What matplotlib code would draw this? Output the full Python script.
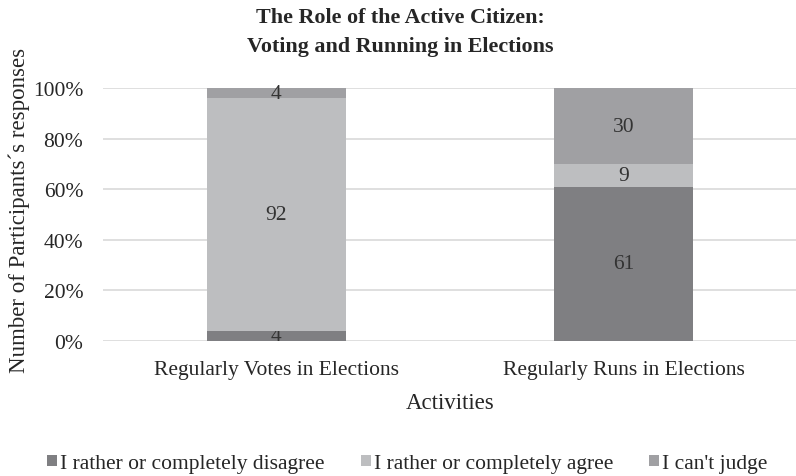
import numpy as np
import matplotlib.pyplot as plt
from matplotlib.ticker import PercentFormatter

# datas
categories = ['Regularly Votes in Elections', 'Regularly Runs in Elections']
disagree = [4, 61]
agree = [92, 9]
cant_judge = [4, 30]
series_names = ['I rather or completely disagree', 'I rather or completely agree', "I can't judge"]
colors = ['#7f7f82', '#bdbec0', '#a0a0a3']

plt.rcParams['font.family'] = ['Liberation Serif', 'DejaVu Serif']

fig = plt.figure(figsize=(7.96, 4.77), dpi=100)
ax = fig.add_axes([0.129, 0.283, 0.873, 0.53])

x = np.arange(len(categories))
bottom = np.zeros(len(categories))
for vals, name, c in zip([disagree, agree, cant_judge], series_names, colors):
    bars = ax.bar(x, vals, 0.4, bottom=bottom, color=c, label=name, zorder=3)
    ax.bar_label(bars, labels=[str(v) for v in vals], label_type='center',
                 fontsize=15.5, color='#333333')
    bottom += np.array(vals)

# styling
ax.set_xlim(-0.5, 1.5)
ax.set_ylim(0, 100)
ax.set_yticks(np.arange(0, 101, 20))
ax.yaxis.set_major_formatter(PercentFormatter(decimals=0))
ax.set_xticks(x)
ax.set_xticklabels(categories)
ax.grid(axis='y', color='#d9d9d9', linewidth=1.2, zorder=0)
for s in ax.spines.values():
    s.set_visible(False)
ax.tick_params(axis='both', length=0, labelsize=15.5, colors='#262626')
ax.tick_params(axis='y', pad=14)
ax.tick_params(axis='x', pad=14)
ax.set_xlabel('Activities', fontsize=16.5, color='#262626', labelpad=9)
ax.set_ylabel('Number of Participants\u00b4s responses', fontsize=16.5, color='#262626')
ax.yaxis.set_label_coords(-0.104, 0.52)
ax.set_title('The Role of the Active Citizen:\nVoting and Running in Elections',
             fontsize=15.8, fontweight='bold', color='#262626', pad=27, x=0.428,
             linespacing=1.58)
fig.legend(loc='lower center', bbox_to_anchor=(0.512, -0.035), ncol=3, frameon=False,
           fontsize=15.5, handlelength=0.45, handleheight=0.45, handletextpad=0.15,
           columnspacing=1.68, labelcolor='#262626')

# save
fig.savefig('out.png', dpi=100)
plt.close('all')
